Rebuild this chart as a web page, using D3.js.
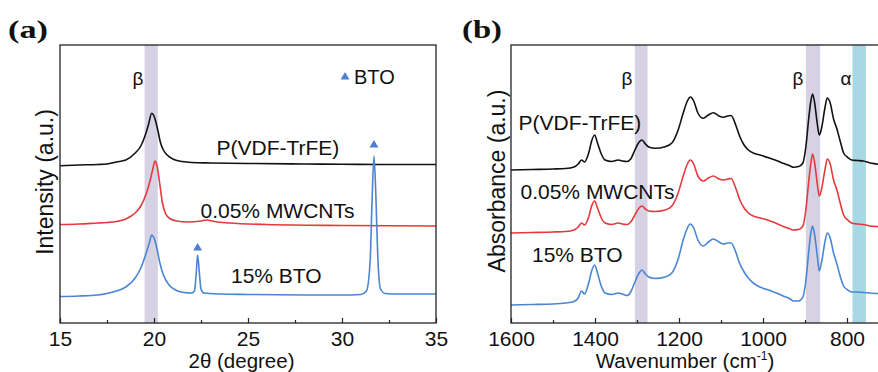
<!DOCTYPE html>
<html><head><meta charset="utf-8">
<script src="https://cdn.jsdelivr.net/npm/d3@7"></script>
<style>
html,body{margin:0;padding:0;background:#fff;}
svg{display:block;}
text{font-family:"Liberation Sans",Arial,sans-serif;fill:#111;}
</style></head>
<body>
<svg id="chart" width="878" height="372"></svg>
<script>
// ---------- DATA ----------
// (a) XRD: [2theta (deg), intensity (a.u., offset-stacked)]
const xrdPVDF = [[15,157.3],[16,158],[17,158.5],[17.5,159],[18,161],[18.5,163],[19,170],[19.3,177],[19.5,186],[19.7,198],[19.88,209.7],[20,207],[20.1,201],[20.2,193],[20.35,180],[20.5,173],[20.7,168],[21,164],[21.5,161.5],[22,160.5],[23,160],[25,159.5],[28,159],[30,158.7],[32,158.5],[35,158.5]];
const xrdMWCNT = [[15,98.5],[16,99],[17,100],[17.5,100.5],[18,101.5],[18.5,104],[19,110],[19.3,117],[19.6,130],[19.8,143],[19.95,155],[20.05,162],[20.15,158],[20.3,140],[20.45,120],[20.6,110],[20.8,105],[21.2,102],[21.8,101],[22.5,102],[22.8,103],[23.2,101.5],[24,100],[26,98.5],[30,97.5],[35,97]];
const xrdBTO = [[15,26.5],[16,27],[17,28],[17.5,29.5],[18,32],[18.5,36],[19,45],[19.3,55],[19.55,68],[19.75,80],[19.88,88],[20,85],[20.15,75],[20.3,61],[20.5,48],[20.8,38],[21.2,32.5],[21.6,30.5],[22,30],[22.15,32],[22.25,51],[22.32,68],[22.4,53],[22.5,34],[22.65,30],[23.5,29],[25,28.5],[28,28],[30,28],[31,28.5],[31.3,32],[31.5,63],[31.6,123],[31.7,167],[31.8,128],[31.9,68],[32.05,34],[32.3,29.5],[33,29],[35,29]];
const btoMarkers = [[22.32,75],[31.7,178]];
const xrdBand = [19.5,20.2];
const xrdTicks = [15,20,25,30,35];
const xrdMinor = [17.5,22.5,27.5,32.5];

// (b) FTIR: [wavenumber (cm-1), absorbance (a.u., offset-stacked)]
const ftirPVDF = [[1600,153],[1550,153.5],[1500,154],[1470,154.5],[1450,156],[1440,159],[1432,163],[1425,161],[1415,170],[1408,182],[1401,188],[1394,180],[1386,170],[1376,163],[1360,161.5],[1345,163],[1335,162],[1324,161.5],[1315,164],[1305,173],[1295,181],[1288,183],[1280,179],[1272,176],[1257,174.7],[1233,176.3],[1217,180],[1202,193],[1190,210],[1180,222],[1173,226],[1165,222],[1155,210],[1142,204.7],[1130,208],[1118,210.3],[1105,207],[1094,205.7],[1084,207],[1076,207.5],[1065,198],[1055,186.3],[1045,178],[1035,173],[1020,169.5],[1007,168],[983,164.7],[965,162],[952,159.7],[935,157],[928,155.7],[915,156.5],[905,160],[898,176],[891,205],[886,222],[882,229],[877,220],[871,200],[866,188],[860,196],[853,214],[847,225],[840,220],[832,204],[824,194],[815,180],[808,170],[798,165.5],[789,163],[775,162.5],[761,162],[745,160],[730,159],[710,157.5],[700,157]];
const ftirMWCNT = [[1600,90],[1550,90.5],[1500,91],[1470,91.5],[1450,93],[1440,96],[1432,100],[1425,98],[1415,106],[1408,117],[1401,122],[1394,115],[1386,106],[1376,100],[1360,98.5],[1345,100],[1335,99],[1324,98.5],[1315,101],[1305,108],[1295,115],[1288,117],[1280,114],[1272,112],[1257,111.5],[1233,113],[1217,117],[1202,130],[1190,147],[1180,159],[1173,163],[1165,159],[1155,147],[1142,142],[1130,145],[1118,147],[1105,144],[1094,143],[1084,144],[1076,144.5],[1065,135],[1055,123],[1045,115],[1035,110],[1020,106.5],[1007,105],[983,102],[965,99],[952,96.5],[935,94],[928,93],[915,93.5],[905,97],[898,113],[891,142],[886,160],[882,169],[877,160],[871,140],[866,127],[860,135],[853,152],[847,164],[840,159],[832,143],[824,133],[815,118],[808,108],[798,103],[789,100],[775,99],[761,98.5],[745,97],[730,96.5],[710,95.5],[700,95]];
const ftirBTO = [[1600,18],[1550,18.5],[1500,19],[1470,20],[1450,21.5],[1440,25],[1432,32],[1425,29],[1415,40],[1408,52],[1401,58],[1394,50],[1386,38],[1376,30],[1360,28.5],[1345,30],[1335,29],[1324,27.5],[1315,31],[1305,41],[1295,50],[1288,53],[1280,49],[1272,46],[1257,44.5],[1233,46],[1217,50],[1202,64],[1190,83],[1180,95],[1173,99],[1165,95],[1155,83],[1142,77],[1130,81],[1118,84],[1105,81],[1094,79],[1084,80],[1076,80],[1065,71],[1055,59],[1045,51],[1035,45],[1020,39],[1007,36],[983,32.5],[965,29.5],[952,27],[935,24],[928,22],[915,22],[905,26],[898,42],[891,72],[886,90],[882,97],[877,88],[871,68],[866,52],[860,62],[853,80],[847,90],[840,85],[832,70],[824,59],[815,45],[808,37],[798,33],[789,31],[775,31],[761,30.5],[745,30],[730,29.5],[710,29.5],[700,29.5]];
const ftirBetaBands = [[1305,1275],[898,864]];
const ftirAlphaBand = [787,755];
const ftirTicks = [1600,1400,1200,1000,800];
const ftirMinor = [1500,1300,1100,900,700];

const seriesNames = ["P(VDF-TrFE)","0.05% MWCNTs","15% BTO"];
const colors = ["#111111","#e5393d","#4a85d3"];

// ---------- DRAW ----------
const svg = d3.select("#chart");
const plotTop = 45, plotBottom = 323;
const y = d3.scaleLinear().domain([0,278]).range([plotBottom, plotTop]);

function panel(opts){
  const g = svg.append("g");
  const x = opts.x;
  opts.bands.forEach(b=>{
    g.append("rect").attr("x",Math.min(x(b.r[0]),x(b.r[1]))).attr("y",plotTop)
      .attr("width",Math.abs(x(b.r[1])-x(b.r[0]))).attr("height",plotBottom-plotTop)
      .attr("fill",b.c);
  });
  const line = d3.line().x(d=>x(d[0])).y(d=>y(d[1])).curve(d3.curveMonotoneX);
  opts.series.forEach((s,i)=>{
    g.append("path").datum(s).attr("d",line).attr("fill","none")
      .attr("stroke",colors[i]).attr("stroke-width",1.6).attr("stroke-linejoin","round");
  });
  const [r0,r1] = x.range();
  g.append("rect").attr("x",r0).attr("y",plotTop).attr("width",r1-r0).attr("height",plotBottom-plotTop)
    .attr("fill","none").attr("stroke","#222").attr("stroke-width",1.3);
  const ax = d3.axisBottom(x).tickValues(opts.ticks).tickSize(-5).tickFormat(d3.format("d"));
  const ag = g.append("g").attr("transform",`translate(0,${plotBottom})`).call(ax);
  ag.select(".domain").remove();
  ag.selectAll(".tick line").attr("stroke","#222").attr("stroke-width",1.2);
  ag.selectAll(".tick text").attr("font-size",21).attr("fill","#111").attr("dy",null).attr("y",22.8)
    .style("font-family",'"Liberation Sans",Arial,sans-serif');
  const am = d3.axisBottom(x).tickValues(opts.minor).tickSize(-3).tickFormat("");
  const amg = g.append("g").attr("transform",`translate(0,${plotBottom})`).call(am);
  amg.select(".domain").remove();
  amg.selectAll(".tick line").attr("stroke","#222").attr("stroke-width",1.2);
  return g;
}

// Panel (a)
const xa = d3.scaleLinear().domain([15,35]).range([60,436]);
const ga = panel({x:xa, series:[xrdPVDF,xrdMWCNT,xrdBTO],
  bands:[{r:xrdBand,c:"#d6d2e4"}], ticks:xrdTicks, minor:xrdMinor});
const tri = d3.symbol().type(d3.symbolTriangle).size(34);
ga.selectAll(".bto").data(btoMarkers).enter().append("path")
  .attr("d",tri).attr("fill","#4a7fd2")
  .attr("transform",d=>`translate(${xa(d[0])},${y(d[1])})`);
ga.append("path").attr("d",tri).attr("fill","#4a7fd2").attr("transform","translate(345,77)");
ga.append("text").attr("x",354).attr("y",84).attr("font-size",20).text("BTO");
ga.append("text").attr("x",138).attr("y",85).attr("font-size",19).attr("text-anchor","middle").text("β");
ga.append("text").attr("x",216.5).attr("y",155).attr("font-size",21).text(seriesNames[0]);
ga.append("text").attr("x",200.5).attr("y",218).attr("font-size",21).text(seriesNames[1]);
ga.append("text").attr("x",231).attr("y",283).attr("font-size",21).text(seriesNames[2]);
ga.append("text").attr("x",241.5).attr("y",367.5).attr("font-size",20.5).attr("text-anchor","middle").text("2θ (degree)");
ga.append("text").attr("transform","translate(53,182) rotate(-90)").attr("font-size",23)
  .attr("text-anchor","middle").text("Intensity (a.u.)");
ga.append("text").attr("x",8).attr("y",38).attr("font-size",25).attr("font-weight","bold")
  .style("font-family",'"Liberation Serif","Times New Roman",serif')
  .attr("textLength",40).attr("lengthAdjust","spacingAndGlyphs").text("(a)");

// Panel (b)
const xb = d3.scaleLinear().domain([1600,700]).range([511,889]);
const gb = panel({x:xb, series:[ftirPVDF,ftirMWCNT,ftirBTO],
  bands:[{r:ftirBetaBands[0],c:"#d6d2e4"},{r:ftirBetaBands[1],c:"#d6d2e4"},{r:ftirAlphaBand,c:"#a9d8e5"}],
  ticks:ftirTicks, minor:ftirMinor});
gb.append("text").attr("x",627).attr("y",85).attr("font-size",19).attr("text-anchor","middle").text("β");
gb.append("text").attr("x",798).attr("y",85).attr("font-size",19).attr("text-anchor","middle").text("β");
gb.append("text").attr("x",846).attr("y",85).attr("font-size",19).attr("text-anchor","middle").text("α");
gb.append("text").attr("x",518.5).attr("y",130).attr("font-size",21).text(seriesNames[0]);
gb.append("text").attr("x",520.5).attr("y",199).attr("font-size",21).text(seriesNames[1]);
gb.append("text").attr("x",532).attr("y",262).attr("font-size",21).text(seriesNames[2]);
const wt = gb.append("text").attr("x",685).attr("y",367.5).attr("font-size",20.5).attr("text-anchor","middle");
wt.append("tspan").text("Wavenumber (cm");
wt.append("tspan").attr("font-size",12).attr("dy",-8).text("-1");
wt.append("tspan").attr("dy",8).text(")");
gb.append("text").attr("transform","translate(505,181) rotate(-90)").attr("font-size",23)
  .attr("text-anchor","middle").text("Absorbance (a.u.)");
gb.append("text").attr("x",462).attr("y",38).attr("font-size",25).attr("font-weight","bold")
  .style("font-family",'"Liberation Serif","Times New Roman",serif')
  .attr("textLength",40).attr("lengthAdjust","spacingAndGlyphs").text("(b)");
</script>
</body></html>
